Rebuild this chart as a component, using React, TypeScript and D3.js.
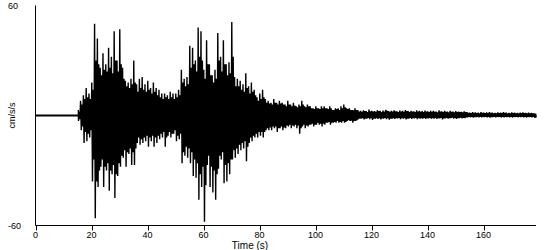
import React from 'react';
import * as d3 from 'd3';

const W = 550;
const H = 250;

const xTicks = [0, 20, 40, 60, 80, 100, 120, 140, 160];
const yLabels = [60, -60];
const xTitle = 'Time (s)';
const yTitle = 'cm/s/s';

// trace: quiet until the onset, then one-second peak values from t = 15 s
const onsetTime = 15.3;
const peakStart = 15;
const peakUpper = [
  3, 8, 11, 15, 12, 18, 50, 42, 26, 34, 28, 37, 32, 46, 30, 47, 26, 19, 18, 20,
  30, 17, 20, 21, 17, 19, 15, 18, 15, 14, 12, 12, 11, 13, 12, 12, 14, 25, 20, 21,
  38, 37, 30, 48, 46, 25, 41, 28, 22, 25, 45, 32, 41, 28, 29, 51, 21, 20, 19, 17,
  23, 16, 18, 14, 10, 12, 14, 9, 8, 7, 9, 7, 8, 7, 6, 8, 6, 7, 5, 6,
  8, 5, 6, 5, 4, 5, 4, 5, 5, 4, 5, 3, 4, 4, 5, 6, 4, 4, 3, 4,
  3, 2.5, 2.8, 2.4, 3.2, 2.6, 2.4, 2.9, 2.5, 2.7, 3.1, 2.4, 2.6, 2.8, 2.3, 2.7, 2.5, 3, 2.4, 2.6,
  2.3, 2.8, 2.5, 2.4, 2.7, 2.3, 2.5,
  2.6, 2.2, 2.8, 2.3, 2.5, 2.2, 2.6, 2.1, 2.4, 2.2, 2, 2.3,
  1.8, 1.6, 1.9, 1.7, 1.6, 1.8, 1.6, 1.7, 1.9, 1.6, 1.5, 1.7, 1.6, 1.8, 1.6, 1.5, 1.7, 1.6, 1.5, 1.6,
  1.7, 1.5, 1.6, 1.4, 1.2,
];
const peakLower = [
  -3, -8, -15, -14, -12, -36, -56, -39, -28, -39, -30, -41, -32, -45, -33, -28, -23, -28, -21, -27,
  -27, -15, -16, -15, -14, -17, -14, -17, -15, -13, -12, -17, -11, -12, -10, -14, -13, -26, -22, -23,
  -26, -33, -34, -46, -39, -58, -27, -39, -42, -46, -29, -24, -37, -36, -32, -24, -23, -21, -19, -18,
  -25, -15, -14, -12, -12, -11, -12, -8, -8, -8, -7, -9, -7, -8, -7, -6, -7, -6, -7, -10,
  -6, -7, -6, -5, -6, -5, -5, -6, -5, -4, -5, -4, -4, -4, -4, -4, -3, -3, -4, -3,
  -2, -1.8, -2.2, -1.7, -2, -2.4, -1.8, -1.9, -2.1, -1.7, -2, -2.3, -1.8, -1.9, -1.6, -2, -1.8, -2.2, -1.7, -1.9,
  -1.6, -2, -1.8, -1.7, -1.9, -1.6, -1.8,
  -1.7, -1.9, -1.6, -2.1, -1.6, -1.8, -1.5, -1.7, -1.9, -1.5, -1.6, -1.4,
  -1.1, -1, -1.2, -0.9, -1, -1.1, -0.9, -1, -1.2, -0.9, -1, -0.9, -1.1, -1, -0.9, -1, -1.1, -0.9, -1, -0.9,
  -1, -1.1, -0.9, -1, -1.3,
];

// second-largest swing within each second, same seconds
const subUpper = [
  2, 6, 9, 10, 9,
  14, 30, 28, 22, 25, 24, 26, 23, 30, 24, 28, 20, 16, 15, 17,
  18, 13, 15, 14, 13, 14, 12, 13, 11, 10, 9, 10, 9, 10, 9, 10, 11,
  18, 16, 17, 26, 28, 24, 32, 30, 20, 28, 22, 18, 20, 30, 24, 28, 22, 23, 32, 16, 16, 14, 13,
  15, 12, 13, 11, 8, 9, 10, 7, 6.5, 6, 7, 6, 6.5, 6, 5, 6, 5, 5.5, 4.5, 5,
  6, 4.5, 5, 4, 3.5, 4, 3.5, 4, 4, 3.5, 4, 3, 3.5, 3, 4, 4.5, 3.5, 3, 2.8, 3,
  2.2, 2, 2.4, 1.9, 2.3, 2.1, 2, 2.4, 1.9, 2.2, 2.5, 2, 2.1, 2.3, 1.9, 2.2, 2, 2.4, 1.9, 2.1,
  1.9, 2.2, 2, 1.9, 2.1, 1.8, 2,
  2, 1.8, 2.1, 1.9, 2, 1.8, 2, 1.7, 1.9, 1.8, 1.7, 1.8,
  1.4, 1.3, 1.5, 1.3, 1.2, 1.4, 1.3, 1.3, 1.5, 1.2, 1.2, 1.3, 1.3, 1.4, 1.2, 1.2, 1.3, 1.2, 1.2, 1.3,
  1.3, 1.2, 1.2, 1.1, 1,
];
const subLower = [
  -2, -6, -9, -10, -8,
  -24, -36, -30, -24, -28, -26, -30, -27, -32, -26, -22, -19, -20, -18, -20,
  -18, -12, -13, -12, -11, -12, -11, -12, -11, -10, -9, -12, -9, -10, -8, -11, -10,
  -20, -17, -18, -20, -24, -26, -32, -28, -38, -22, -28, -30, -32, -22, -20, -27, -26, -24, -19, -18, -16, -15, -14,
  -17, -12, -11, -10, -9, -9, -9, -7, -6.5, -6, -6, -7, -6, -6.5, -5.5, -5, -5.5, -5, -5.5, -7,
  -5, -5.5, -5, -4.5, -5, -4, -4.5, -4.5, -4, -3.5, -4, -3.5, -3, -3.5, -3, -3.5, -2.5, -2.8, -3, -2.5,
  -1.6, -1.4, -1.7, -1.3, -1.5, -1.8, -1.4, -1.5, -1.6, -1.3, -1.5, -1.7, -1.4, -1.5, -1.3, -1.5, -1.4, -1.7, -1.3, -1.5,
  -1.3, -1.5, -1.4, -1.3, -1.5, -1.3, -1.4,
  -1.3, -1.5, -1.3, -1.6, -1.3, -1.4, -1.2, -1.3, -1.5, -1.2, -1.3, -1.1,
  -0.8, -0.7, -0.9, -0.7, -0.8, -0.8, -0.7, -0.8, -0.9, -0.7, -0.8, -0.7, -0.8, -0.8, -0.7, -0.8, -0.8, -0.7, -0.8, -0.7,
  -0.8, -0.8, -0.7, -0.8, -1,
];

const FONT = "'Liberation Sans', Arial, sans-serif";
const NARROW = "'Liberation Sans Narrow', 'Arial Narrow', 'Liberation Sans', sans-serif";

export default function App() {
  const x = d3.scaleLinear().domain([0, 178.75]).range([35.5, 536]);
  const y = d3.scaleLinear().domain([-60, 60]).range([225.5, 5.5]);

  const pts: [number, number][] = [];
  peakUpper.forEach((u, i) => {
    const t = peakStart + i;
    pts.push([Math.max(t + 0.1, onsetTime), u]);
    pts.push([t + 0.35, peakLower[i]]);
    pts.push([t + 0.6, subUpper[i]]);
    pts.push([t + 0.85, subLower[i]]);
  });
  const line = d3.line<[number, number]>().x(d => x(d[0])).y(d => y(d[1]));

  const [x0, x1] = x.range();
  const [yb, yt] = y.range();

  return (
    <svg width={W} height={H} style={{ position: 'absolute', left: 0, top: 0, background: '#fff' }}>
      <rect width={W} height={H} fill="#fff" />
      <line x1={x(0)} x2={x(onsetTime)} y1={y(0)} y2={y(0)} stroke="#000" strokeWidth={2} />
      <path d={line(pts) || ''} fill="none" stroke="#000" strokeWidth={1.4} strokeLinejoin="miter" strokeMiterlimit={1} />
      {/* axes */}
      <line x1={x0} x2={x0} y1={yt} y2={yb} stroke="#000" strokeWidth={1} />
      <line x1={x0} x2={x1} y1={yb} y2={yb} stroke="#000" strokeWidth={1} />
      {xTicks.map(t => (
        <g key={t}>
          <line x1={Math.round(x(t)) + 0.5} x2={Math.round(x(t)) + 0.5} y1={yb} y2={yb + 5} stroke="#000" />
          <text x={x(t)} y={236} textAnchor="middle" dominantBaseline="middle" fontFamily={NARROW} fontSize={9} fill="#000">
            {t}
          </text>
        </g>
      ))}
      {yLabels.map(v => (
        <text key={v} x={8} y={y(v) + 1} dominantBaseline="middle" fontFamily={NARROW} fontSize={9} fill="#000">
          {v}
        </text>
      ))}
      <text x={250} y={246} textAnchor="middle" dominantBaseline="middle" fontFamily={FONT} fontSize={10} fill="#000">
        {xTitle}
      </text>
      <text
        transform={`translate(13,${y(0)}) rotate(-90)`}
        textAnchor="middle"
        dominantBaseline="middle"
        fontFamily={NARROW}
        fontSize={9}
        fill="#000"
      >
        {yTitle}
      </text>
    </svg>
  );
}
